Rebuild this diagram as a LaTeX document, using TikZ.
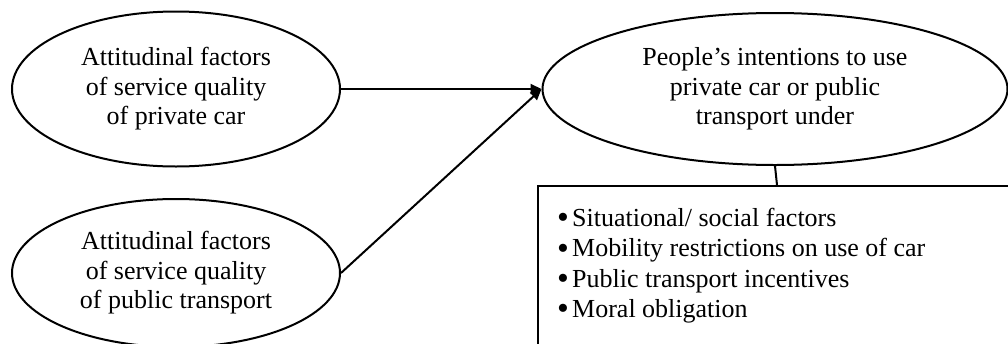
\documentclass[tikz,border=0pt]{standalone}
\usepackage{fontspec}
\setmainfont{Liberation Serif}
\usetikzlibrary{shapes.geometric,arrows.meta}

\newcommand{\blt}{\makebox[15pt][l]{\smash{\raisebox{-2.2pt}{\scalebox{1.3}{\textbullet}}}}}

\begin{document}
\begin{tikzpicture}[x=1pt,y=-1pt,
  every node/.style={font=\fontsize{26}{29.5}\selectfont},
  oval/.style={ellipse, draw, line width=2pt, inner sep=0pt, align=center},
  link/.style={line width=2pt, -{Triangle[length=11pt,width=10pt]}}]
  \useasboundingbox (0,0) rectangle (1008,343);
  \clip (0,0) rectangle (1008,343);

  \node[oval, minimum width=328pt, minimum height=155pt] (car) at (176,89) {Attitudinal factors\\of service quality\\of private car};
  \node[oval, minimum width=328pt, minimum height=148pt] (pt) at (176,273) {Attitudinal factors\\of service quality\\of public transport};
  \node[oval, minimum width=465pt, minimum height=152pt] (intent) at (775,89) {People's intentions to use\\private car or public\\transport under};

  % conditions box, runs off the page at right and bottom
  \node[draw, line width=2pt, minimum width=478pt, minimum height=180pt, anchor=north west, inner sep=0pt] (cond) at (537,185) {};
  \node[anchor=north west, align=left, inner sep=0pt, font=\fontsize{26}{30.3}\selectfont] (list) at (557,208) {%
    \blt Situational/ social factors\\
    \blt Mobility restrictions on use of car\\
    \blt Public transport incentives\\
    \blt Moral obligation};

  \draw[link] (car.east) -- (intent.west);
  \draw[link] (pt.east) -- (intent.west);
  \draw[line width=2pt] (intent.south) -- (cond.north);
\end{tikzpicture}
\end{document}
